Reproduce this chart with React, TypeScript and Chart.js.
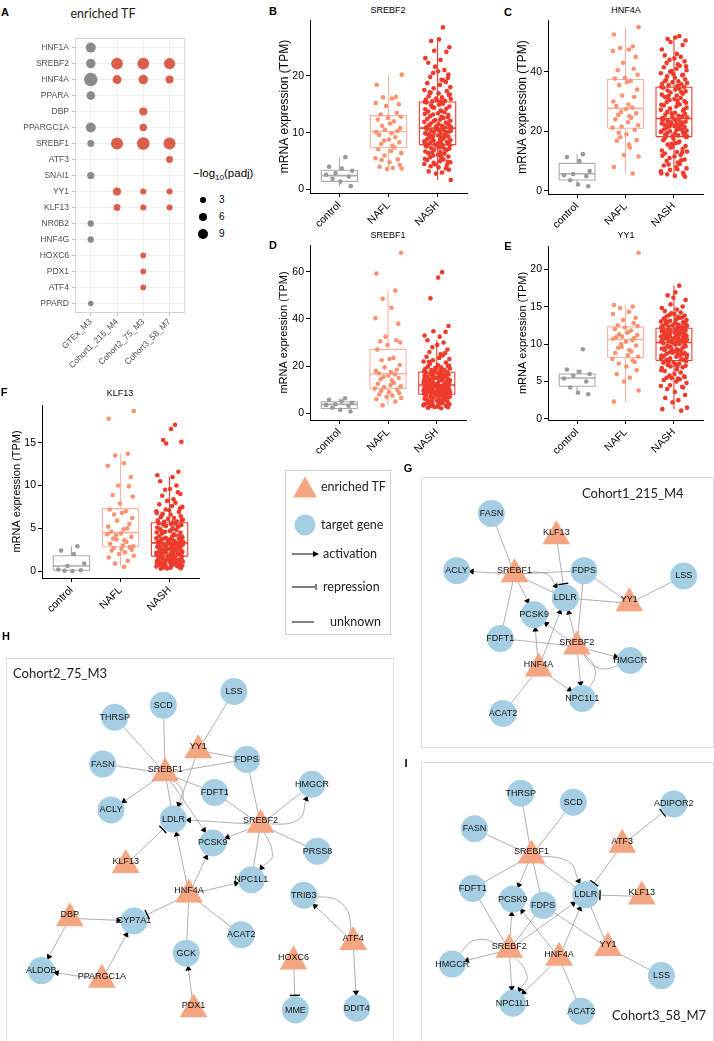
import React, { useEffect, useRef } from 'react';
import { Chart, registerables } from 'chart.js';
Chart.register(...registerables);

const SANS = '"Liberation Sans", Arial, Helvetica, sans-serif';
const CAL = 'Lato, "Open Sans", sans-serif';
Chart.defaults.font.family = SANS;

// ---------------- Panel A: enriched TF dot plot ----------------
const tfNames = ['HNF1A', 'SREBF2', 'HNF4A', 'PPARA', 'DBP', 'PPARGC1A', 'SREBF1', 'ATF3', 'SNAI1', 'YY1', 'KLF13', 'NR0B2', 'HNF4G', 'HOXC6', 'PDX1', 'ATF4', 'PPARD'];
const moduleNames = ['GTEx_M3', 'Cohort1_215_M4', 'Cohort2_75_M3', 'Cohort3_58_M7'];
// -log10(padj) per TF (null = not enriched)
const gtexM3 = [9, 8, 15, 6.5, null, 9, 3.5, null, 4, null, null, 2.5, 2.5, null, null, null, 1];
const cohort1M4 = [null, 12, 7, null, null, null, 12.5, null, null, 5.5, 3.5, null, null, null, null, null, null];
const cohort2M3 = [null, 12, 8, null, 5.5, 4.3, 13.5, null, null, 2, 2, null, null, 1.5, 1.5, 1.5, null];
const cohort3M7 = [null, 11, 5.5, null, null, null, 12.5, 3.5, null, 2, 2, null, null, null, null, null, null];
const sizeLegendValues = [3, 6, 9];

// ---------------- Box plots ----------------
const groupNames = ['control', 'NAFL', 'NASH'];

const srebf2Control = [5.7, 4.0, 3.7, 3.3, 2.9, 2.6, 2.3, 1.9, 1.4, 0.6];
const srebf2Nafl = [20.2, 18.4, 16.3, 16.2, 16.0, 15.2, 15.0, 14.7, 13.5, 13.2, 12.8, 12.6, 12.3, 12.0, 11.6, 11.2, 10.8, 10.5, 10.3, 10.1, 9.9, 9.6, 9.2, 8.8, 8.6, 8.3, 8.0, 7.7, 7.4, 7.1, 6.8, 6.4, 6.0, 5.5, 5.3, 5.2, 4.8, 4.3, 4.0, 3.8, 3.6, 3.7];
const srebf2Nash = [28.5, 26.4, 26.1, 25.0, 24.4, 24.2, 23.1, 22.8, 22.3, 21.0, 20.8, 20.5, 20.2, 19.8, 19.3, 19.2, 18.7, 18.4, 18.0, 17.8, 17.5, 17.3, 17.0, 16.9, 16.6, 16.4, 16.2, 16.0, 15.9, 15.8, 15.6, 15.5, 15.5, 15.4, 19.6, 21.6, 18.9, 17.1, 16.7, 15.7,
  15.3, 15.1, 14.9, 14.8, 14.6, 14.4, 14.2, 14.1, 13.9, 13.7, 13.6, 13.4, 13.2, 13.1, 12.9, 12.8, 12.6, 12.4, 12.3, 12.1, 12.0, 11.9, 11.7, 11.6, 11.5, 11.4, 11.3, 11.2, 11.1, 11.0, 10.9, 10.9, 14.5, 13.8, 13.3, 12.7, 12.2, 11.8, 11.4, 11.0,
  10.7, 10.6, 10.5, 10.4, 10.3, 10.2, 10.1, 10.0, 9.9, 9.8, 9.7, 9.6, 9.5, 9.4, 9.3, 9.2, 9.1, 9.0, 8.9, 8.8, 8.7, 8.6, 8.5, 8.4, 8.3, 8.2, 8.1, 8.0, 7.95, 10.65, 10.35, 9.85, 9.45, 9.05, 8.65, 8.25, 8.05, 7.9, 10.1, 9.6,
  7.8, 7.7, 7.6, 7.5, 7.4, 7.3, 7.2, 7.0, 6.9, 6.7, 6.6, 6.4, 6.3, 6.1, 6.0, 5.8, 5.7, 5.5, 5.3, 5.2, 5.0, 4.8, 4.7, 4.5, 4.3, 4.1, 3.9, 3.5, 3.2, 3.0, 2.8, 1.7, 7.65, 7.1, 6.5, 5.9, 5.4, 4.9, 4.4, 3.7];
const srebf2Box = [[0.6, 1.45, 2.45, 3.4, 5.7], [3.6, 7.4, 10.2, 13.0, 20.2], [1.7, 7.9, 10.8, 15.4, 26.4]];
const srebf2Ticks = [0, 10, 20];

const hnf4aControl = [12.3, 11.3, 10.0, 6.6, 5.6, 5.2, 4.9, 3.5, 2.1, 1.5];
const hnf4aNafl = [55.0, 52.5, 48.5, 48.0, 47.5, 47.0, 45.0, 43.0, 41.0, 40.5, 39.0, 38.0, 37.7,
  37.0, 36.5, 35.5, 34.0, 32.0, 31.5, 30.0, 29.0, 28.5, 28.0,
  27.5, 26.5, 26.0, 25.5, 25.0, 24.5, 24.0, 23.0, 22.0, 21.5, 21.2,
  20.5, 19.5, 19.0, 17.0, 16.8, 14.5, 12.0, 11.5, 8.0, 5.8, 18.0, 15.5];
const hnf4aNash = [52.0, 51.5, 51.0, 50.5, 50.0, 49.0, 47.5, 46.0, 45.5, 45.0, 44.5, 44.0, 43.5, 43.0, 42.5, 42.0, 41.5, 41.0, 40.5, 40.0, 39.5, 39.0, 38.5, 38.0, 37.5, 37.0, 36.8, 36.5, 36.2, 36.0, 35.8, 35.5, 35.3, 35.0, 34.9, 40.2, 38.8, 37.2, 41.8, 39.2,
  34.6, 34.3, 34.0, 33.7, 33.4, 33.0, 32.6, 32.3, 32.0, 31.6, 31.2, 30.8, 30.5, 30.1, 29.8, 29.4, 29.0, 28.7, 28.3, 28.0, 27.6, 27.2, 26.9, 26.5, 26.2, 25.8, 25.5, 25.2, 24.9, 24.6, 24.4, 33.2, 31.9, 30.3, 28.9, 27.4, 26.0, 25.0, 31.4, 29.6,
  24.2, 24.0, 23.8, 23.6, 23.4, 23.2, 23.0, 22.8, 22.6, 22.4, 22.2, 22.0, 21.8, 21.6, 21.4, 21.2, 21.0, 20.8, 20.6, 20.4, 20.2, 20.0, 19.8, 19.6, 19.4, 19.2, 19.0, 18.8, 18.6, 18.4, 18.3, 23.9, 22.9, 21.9, 20.9, 19.9, 18.9, 22.5, 20.5, 18.5,
  18.0, 17.5, 17.0, 16.5, 16.0, 15.5, 15.0, 14.5, 14.0, 13.5, 13.0, 12.5, 12.0, 11.5, 11.0, 10.5, 10.0, 9.5, 9.0, 8.5, 8.0, 7.5, 7.0, 6.5, 6.0, 5.5, 5.0, 4.7, 17.8, 16.2, 14.8, 13.2, 11.8, 10.2, 8.8, 7.2, 5.8, 5.2, 15.8, 12.8];
const hnf4aBox = [[1.5, 3.6, 5.7, 9.2, 12.3], [5.8, 21.0, 27.7, 37.4, 55.0], [4.7, 18.2, 24.3, 34.8, 52.0]];
const hnf4aTicks = [0, 20, 40];

const srebf1Control = [6.4, 5.8, 5.1, 4.5, 3.9, 3.6, 3.2, 2.4, 1.5, 0.8];
const srebf1Nafl = [68.0, 59.2, 52.0, 48.5, 44.7, 40.3, 38.0, 32.5, 31.0, 30.5, 30.0, 29.0,
  27.0, 23.5, 23.0, 22.5, 20.5, 19.5, 18.5, 18.0, 17.5, 17.0,
  16.5, 16.0, 15.5, 15.0, 14.5, 14.0, 13.0, 12.5, 12.0, 11.5, 11.0,
  10.5, 10.0, 9.5, 9.0, 8.5, 8.0, 7.5, 7.0, 6.5, 6.0, 5.0, 3.4];
const srebf1Nash = [59.8, 57.5, 48.7, 37.0, 34.8, 34.5, 33.0, 32.5, 31.0, 30.0, 29.0, 28.0, 27.0, 26.0, 25.0, 24.5, 24.0, 23.5, 23.0, 22.5, 22.0, 21.5, 21.0, 20.5, 20.0, 19.8, 19.5, 19.2, 19.0, 18.8, 18.5, 18.3, 18.0, 17.8, 17.6, 17.5, 25.5, 21.8, 20.2, 19.1,
  17.3, 17.1, 16.9, 16.7, 16.5, 16.3, 16.1, 15.9, 15.7, 15.5, 15.3, 15.1, 14.9, 14.7, 14.5, 14.3, 14.1, 13.9, 13.7, 13.5, 13.3, 13.1, 12.9, 12.7, 12.5, 12.3, 12.1, 16.0, 15.0, 14.0, 13.0, 12.2, 16.6, 15.4, 14.4, 13.4, 12.4, 15.8, 13.8, 12.6,
  11.9, 11.8, 11.7, 11.6, 11.5, 11.4, 11.3, 11.2, 11.1, 11.0, 10.9, 10.8, 10.7, 10.6, 10.5, 10.4, 10.3, 10.2, 10.1, 10.0, 9.9, 9.8, 9.7, 9.6, 9.5, 9.4, 9.3, 9.2, 9.1, 9.0, 8.9, 8.8, 8.7, 8.6, 8.5, 8.4, 8.3, 8.2, 11.45, 10.15,
  8.0, 7.8, 7.6, 7.4, 7.2, 7.0, 6.8, 6.6, 6.4, 6.2, 6.0, 5.8, 5.6, 5.4, 5.2, 5.0, 4.8, 4.6, 4.4, 4.2, 4.0, 3.8, 3.6, 3.4, 3.2, 3.0, 2.8, 2.6, 2.4, 2.2, 7.9, 7.1, 6.5, 5.9, 5.1, 4.5, 3.9, 3.3, 2.7, 6.9];
const srebf1Box = [[0.8, 2.1, 3.8, 4.9, 6.4], [3.4, 10.6, 16.8, 27.1, 52.0], [2.2, 8.1, 12.0, 17.4, 31.0]];
const srebf1Ticks = [0, 20, 40, 60];

const yy1Control = [9.3, 6.6, 6.3, 6.0, 5.8, 5.4, 5.0, 4.2, 3.5, 3.3];
const yy1Nafl = [22.2, 15.2, 15.0, 14.8, 14.3, 14.0, 13.5, 13.2, 12.8, 12.5, 12.4,
  12.2, 12.0, 11.8, 11.5, 11.3, 11.2, 11.0, 10.8, 10.7, 11.6, 10.9,
  10.5, 10.3, 10.0, 9.8, 9.5, 9.2, 9.0, 8.8, 8.5, 8.3, 9.6,
  8.0, 7.6, 7.4, 7.0, 6.5, 6.0, 5.5, 5.0, 3.8, 2.3, 7.8];
const yy1Nash = [17.8, 16.9, 16.5, 15.9, 15.3, 15.0, 14.8, 14.6, 14.4, 14.2, 14.0, 13.9, 13.8, 13.7, 13.6, 13.5, 13.4, 13.3, 13.2, 13.1, 13.0, 12.9, 12.85, 12.8, 12.7, 12.65, 12.6, 12.5, 12.45, 12.4, 12.35, 12.3, 12.25, 12.2, 12.15, 14.1, 13.55, 13.05, 12.55, 16.2,
  12.05, 12.0, 11.95, 11.9, 11.85, 11.8, 11.75, 11.7, 11.65, 11.6, 11.55, 11.5, 11.45, 11.4, 11.35, 11.3, 11.25, 11.2, 11.15, 11.1, 11.05, 11.0, 10.95, 10.9, 10.85, 10.8, 10.75, 10.7, 10.65, 10.6, 10.55, 10.5, 10.45, 10.4, 10.35, 10.3, 10.25, 11.62, 11.02, 10.42,
  10.15, 10.1, 10.0, 9.9, 9.8, 9.7, 9.6, 9.5, 9.4, 9.3, 9.2, 9.1, 9.0, 8.9, 8.8, 8.7, 8.6, 8.5, 8.4, 8.3, 8.2, 8.1, 8.0, 7.9, 7.85, 10.05, 9.75, 9.45, 9.15, 8.85, 8.55, 8.25, 7.95, 9.65, 9.05, 8.45, 10.12, 9.35, 8.65, 7.82,
  7.7, 7.6, 7.5, 7.4, 7.3, 7.2, 7.1, 7.0, 6.9, 6.8, 6.6, 6.4, 6.2, 6.0, 5.8, 5.6, 5.5, 5.4, 5.3, 5.2, 5.0, 4.8, 4.5, 4.4, 4.2, 4.0, 3.6, 3.2, 2.8, 2.5, 2.2, 1.5, 1.3, 1.1, 7.55, 6.95, 6.5, 5.7, 5.45, 4.3];
const yy1Box = [[3.3, 4.35, 5.47, 6.0, 6.6], [2.3, 8.2, 10.6, 12.3, 15.2], [1.3, 7.8, 10.2, 12.1, 17.8]];
const yy1Ticks = [0, 5, 10, 15, 20];

const klf13Control = [2.9, 2.4, 2.0, 0.9, 0.6, 0.2, 0.1, 0.05, 0.0];
const klf13Nafl = [18.7, 17.8, 13.7, 13.5, 12.6, 12.3, 11.0, 10.0, 9.9, 8.9, 8.7, 7.9,
  7.2, 7.0, 6.8, 6.6, 6.2, 5.9, 5.5, 5.2, 4.9, 4.6, 5.0,
  4.4, 4.2, 4.0, 3.8, 3.6, 3.4, 3.2, 3.0, 2.9, 3.7, 4.3,
  2.8, 2.7, 2.6, 2.5, 2.4, 2.2, 2.0, 1.8, 1.6, 1.2, 0.9, 0.5];
const klf13Nash = [17.1, 16.6, 15.3, 15.1, 14.9, 11.6, 11.2, 11.0, 10.5, 10.0, 9.6, 9.5, 9.0, 8.8, 8.4, 8.0, 7.8, 7.6, 7.5, 7.2, 7.0, 6.9, 6.7, 6.6, 6.4, 6.3, 6.2, 6.1, 6.0, 5.9, 5.8, 5.75, 5.7, 6.8, 7.3, 8.2, 9.2, 6.5, 5.95, 7.1,
  5.6, 5.55, 5.5, 5.45, 5.4, 5.3, 5.2, 5.1, 5.0, 4.9, 4.8, 4.7, 4.6, 4.5, 4.4, 4.3, 4.2, 4.1, 4.0, 3.95, 3.9, 3.85, 3.8, 3.75, 3.7, 3.65, 3.6, 3.55, 3.5, 3.45, 3.4, 3.35, 5.35, 4.95, 4.55, 4.15, 3.75, 5.25, 4.65, 4.05,
  3.25, 3.2, 3.15, 3.1, 3.05, 3.0, 2.95, 2.9, 2.85, 2.8, 2.75, 2.7, 2.65, 2.6, 2.55, 2.5, 2.45, 2.4, 2.35, 2.3, 2.25, 2.2, 2.15, 2.1, 2.05, 2.0, 1.95, 1.9, 1.85, 1.8, 3.12, 2.88, 2.62, 2.38, 2.12, 1.88, 3.02, 2.52, 2.02, 1.78,
  1.7, 1.65, 1.6, 1.55, 1.5, 1.45, 1.4, 1.35, 1.3, 1.25, 1.2, 1.15, 1.1, 1.05, 1.0, 0.95, 0.9, 0.85, 0.8, 0.75, 0.7, 0.65, 0.6, 0.55, 0.5, 0.45, 0.4, 0.35, 0.3, 1.62, 1.38, 1.12, 0.88, 0.62, 0.42, 1.52, 1.02, 0.72, 0.32, 1.28];
const klf13Box = [[0.0, 0.1, 0.6, 1.8, 2.9], [0.5, 2.85, 4.5, 7.3, 13.7], [0.3, 1.75, 3.3, 5.65, 11.0]];
const klf13Ticks = [0, 5, 10, 15];

// horizontal jitter offsets (category units)
const jitterOffsets = [0.12, -0.21, 0.05, 0.26, -0.08, -0.27, 0.19, -0.14, 0.02, 0.23, -0.18, 0.09, -0.03, 0.27, -0.24, 0.15, -0.11, 0.07, -0.26, 0.21, -0.05, 0.17, -0.16, 0.25, -0.01, -0.22, 0.11, 0.03, -0.13, 0.24, -0.07, 0.18, -0.25, 0.06, -0.19, 0.14, 0.01, -0.09, 0.22, -0.15, 0.08];

// ---------------- Networks ----------------
const g1Names = ['FASN', 'KLF13', 'ACLY', 'SREBF1', 'FDPS', 'LSS', 'LDLR', 'YY1', 'PCSK9', 'FDFT1', 'SREBF2', 'HMGCR', 'HNF4A', 'NPC1L1', 'ACAT2'];
const g1Kinds = ['g', 't', 'g', 't', 'g', 'g', 'g', 't', 'g', 'g', 't', 'g', 't', 'g', 'g'];
const g1X = [482, 555, 443, 508, 586, 698, 565, 637, 530, 492, 578, 638, 535, 584, 495];
const g1Y = [500, 522, 565, 565, 565, 571, 596, 598, 615, 642, 647, 667, 672, 710, 727];
const g1Edges = [
  ['FASN', 'SREBF1', 'u', 0], ['SREBF1', 'ACLY', 'a', 0], ['SREBF1', 'FDPS', 'u', 0], ['SREBF1', 'LDLR', 'a', 0.25],
  ['SREBF1', 'LDLR', 'u', 0], ['SREBF1', 'PCSK9', 'a', 0], ['SREBF1', 'FDFT1', 'u', 0], ['KLF13', 'LDLR', 'r', 0],
  ['FDPS', 'YY1', 'u', 0], ['YY1', 'LSS', 'u', 0], ['LDLR', 'YY1', 'u', 0], ['FDPS', 'SREBF2', 'u', 0],
  ['SREBF2', 'LDLR', 'a', 0], ['SREBF2', 'PCSK9', 'a', 0], ['FDFT1', 'SREBF2', 'u', 0], ['SREBF2', 'HMGCR', 'a', 0],
  ['SREBF2', 'HMGCR', 'u', -0.28], ['SREBF2', 'NPC1L1', 'a', 0], ['SREBF2', 'NPC1L1', 'u', 0.3], ['HNF4A', 'PCSK9', 'a', 0],
  ['HNF4A', 'LDLR', 'a', 0], ['HNF4A', 'NPC1L1', 'a', 0], ['HNF4A', 'ACAT2', 'u', 0],
];

const h2Names = ['LSS', 'SCD', 'THRSP', 'YY1', 'FDPS', 'FASN', 'SREBF1', 'HMGCR', 'FDFT1', 'ACLY', 'LDLR', 'SREBF2', 'PCSK9', 'PRSS8', 'KLF13', 'NPC1L1', 'HNF4A', 'TRIB3', 'DBP', 'CYP7A1', 'ACAT2', 'ATF4', 'GCK', 'HOXC6', 'ALDOB', 'PPARGC1A', 'PDX1', 'MME', 'DDIT4'];
const h2Kinds = ['g', 'g', 'g', 't', 'g', 'g', 't', 'g', 'g', 'g', 'g', 't', 'g', 'g', 't', 'g', 't', 'g', 't', 'g', 'g', 't', 'g', 't', 'g', 't', 't', 'g', 'g'];
const h2X = [237, 160, 107, 198, 251, 94, 162, 322, 216, 103, 171, 266, 214, 328, 119, 256, 188, 313, 58, 128, 245, 367, 185, 302, 27, 93, 193, 304, 371];
const h2Y = [677, 692, 705, 737, 751, 756, 762, 778, 787, 806, 816, 818, 842, 851, 862, 882, 894, 899, 920, 927, 942, 946, 962, 967, 981, 987, 1019, 1024, 1022];
const h2Edges = [
  ['LSS', 'YY1', 'u', 0], ['SCD', 'SREBF1', 'u', 0], ['THRSP', 'SREBF1', 'u', 0], ['YY1', 'FDPS', 'u', 0],
  ['YY1', 'LDLR', 'a', 0], ['FASN', 'SREBF1', 'u', 0], ['SREBF1', 'FDPS', 'u', 0], ['SREBF1', 'FDFT1', 'u', 0],
  ['SREBF1', 'ACLY', 'a', 0], ['SREBF1', 'LDLR', 'u', 0], ['SREBF1', 'PCSK9', 'a', 0], ['SREBF1', 'LDLR', 'u', 0.3],
  ['FDPS', 'SREBF2', 'u', 0], ['FDFT1', 'SREBF2', 'u', 0], ['SREBF2', 'LDLR', 'a', 0], ['SREBF2', 'PCSK9', 'a', 0],
  ['SREBF2', 'HMGCR', 'u', 0], ['SREBF2', 'HMGCR', 'a', -0.3], ['SREBF2', 'PRSS8', 'u', 0], ['SREBF2', 'NPC1L1', 'u', 0],
  ['SREBF2', 'NPC1L1', 'a', 0.3], ['KLF13', 'LDLR', 'r', 0], ['HNF4A', 'LDLR', 'a', 0], ['HNF4A', 'PCSK9', 'a', 0],
  ['HNF4A', 'NPC1L1', 'a', 0], ['HNF4A', 'CYP7A1', 'r', 0], ['HNF4A', 'ACAT2', 'u', 0], ['HNF4A', 'GCK', 'u', 0],
  ['DBP', 'CYP7A1', 'a', 0], ['DBP', 'ALDOB', 'a', 0], ['PPARGC1A', 'ALDOB', 'a', 0], ['PPARGC1A', 'CYP7A1', 'a', 0],
  ['PDX1', 'GCK', 'a', 0], ['ATF4', 'TRIB3', 'a', 0], ['TRIB3', 'ATF4', 'u', 0.3], ['ATF4', 'DDIT4', 'a', 0],
  ['HOXC6', 'MME', 'r', 0],
];

const i3Names = ['THRSP', 'SCD', 'ADIPOR2', 'FASN', 'ATF3', 'SREBF1', 'FDFT1', 'KLF13', 'LDLR', 'PCSK9', 'FDPS', 'SREBF2', 'YY1', 'HNF4A', 'HMGCR', 'LSS', 'NPC1L1', 'ACAT2'];
const i3Kinds = ['g', 'g', 'g', 'g', 't', 't', 'g', 't', 'g', 'g', 'g', 't', 't', 't', 'g', 'g', 'g', 'g'];
const i3X = [515, 574, 687, 463, 629, 527, 461, 651, 588, 506, 540, 502, 613, 558, 438, 673, 506, 583];
const i3Y = [779, 789, 791, 819, 833, 845, 886, 891, 893, 898, 905, 951, 949, 960, 971, 984, 1015, 1024];
const i3Edges = [
  ['THRSP', 'SREBF1', 'u', 0], ['SCD', 'SREBF1', 'u', 0], ['FASN', 'SREBF1', 'u', 0], ['ATF3', 'ADIPOR2', 'r', 0],
  ['ATF3', 'LDLR', 'r', 0], ['KLF13', 'LDLR', 'r', 0], ['SREBF1', 'LDLR', 'a', 0.25], ['SREBF1', 'LDLR', 'u', 0],
  ['SREBF1', 'PCSK9', 'a', 0], ['SREBF1', 'FDFT1', 'u', 0], ['SREBF1', 'FDPS', 'u', 0], ['FDFT1', 'SREBF2', 'u', 0],
  ['SREBF2', 'PCSK9', 'a', 0], ['SREBF2', 'FDPS', 'u', 0], ['SREBF2', 'LDLR', 'a', 0], ['SREBF2', 'HMGCR', 'a', 0],
  ['SREBF2', 'HMGCR', 'u', -0.3], ['SREBF2', 'NPC1L1', 'a', 0], ['SREBF2', 'NPC1L1', 'a', 0.3], ['HNF4A', 'PCSK9', 'a', 0],
  ['HNF4A', 'LDLR', 'a', 0], ['HNF4A', 'NPC1L1', 'a', 0], ['HNF4A', 'ACAT2', 'u', 0], ['FDPS', 'YY1', 'u', 0],
  ['LDLR', 'YY1', 'u', 0], ['YY1', 'LSS', 'u', 0],
];

// ---------------- styles ----------------
const DOT_GRAY = '#8a8a8a';
const DOT_RED = '#d95f4c';
const TF_COLOR = '#f4a582';
const GENE_COLOR = '#a6cee3';
const groupColors = [
  { point: '#9a9a9a', box: '#ababab' },
  { point: '#fc9272', box: '#fcb39d' },
  { point: '#ef3b2c', box: '#e8412f' },
];
const sizeToRadius = (v: number) => 2.5 + 0.28 * v;

function CanvasChart({ left, top, width, height, make }: any) {
  const ref = useRef<HTMLCanvasElement>(null);
  useEffect(() => {
    const chart = new Chart(ref.current as HTMLCanvasElement, make());
    return () => chart.destroy();
  }, []);
  return <canvas ref={ref} width={width} height={height} style={{ position: 'absolute', left, top, width, height }} />;
}

function Txt({ x, y, children, size = 11, bold = false, family = SANS, anchor = 'middle', color = '#000' }: any) {
  const tr = anchor === 'middle' ? 'translate(-50%,-50%)' : anchor === 'start' ? 'translate(0,-50%)' : 'translate(-100%,-50%)';
  return (
    <div style={{ position: 'absolute', left: x, top: y, transform: tr, fontSize: size, fontWeight: bold ? 700 : 400, fontFamily: family, color, whiteSpace: 'nowrap', lineHeight: 1 }}>
      {children}
    </div>
  );
}

const framePlugin = (color: string) => ({
  id: 'frame',
  beforeDatasetsDraw(chart: any) {
    const { ctx, chartArea: a } = chart;
    ctx.save();
    ctx.strokeStyle = color;
    ctx.lineWidth = 1;
    ctx.strokeRect(a.left + 0.5, a.top + 0.5, a.width - 1, a.height - 1);
    ctx.restore();
  },
});

// ---------- Panel A config ----------
const A_LAYOUT = { left: 0, top: 26, width: 192, height: 372, plotLeft: 75, plotTop: 38, plotRight: 187, plotBottom: 313 };
function dotPlotConfig() {
  const L = A_LAYOUT;
  const series = [gtexM3, cohort1M4, cohort2M3, cohort3M7];
  const datasets = series.map((vals, mi) => ({
    data: vals.map((v, ti) => (v == null ? null : { x: mi, y: ti, r: sizeToRadius(v) })).filter(Boolean),
    backgroundColor: mi === 0 ? DOT_GRAY : DOT_RED,
    borderWidth: 0,
    hoverBorderWidth: 0,
  }));
  const axisCommon = {
    type: 'linear',
    grid: { color: '#ebebeb', lineWidth: 0.8, tickLength: 3, tickColor: '#b5b5b5' },
    border: { display: false },
  };
  return {
    type: 'bubble',
    data: { datasets },
    options: {
      responsive: false, animation: false, events: [],
      layout: { padding: { left: 0, top: L.plotTop - L.top, right: L.left + L.width - L.plotRight, bottom: 0 } },
      plugins: { legend: { display: false }, tooltip: { enabled: false } },
      scales: {
        x: {
          ...axisCommon, min: -0.6, max: 3.6,
          afterBuildTicks: (a: any) => { a.ticks = moduleNames.map((_, i) => ({ value: i })); },
          afterFit: (s: any) => { s.height = L.top + L.height - L.plotBottom; },
          ticks: { callback: (v: any) => moduleNames[v], minRotation: 45, maxRotation: 45, autoSkip: false, font: { size: 8.5, family: SANS }, color: '#4d4d4d', padding: 1 },
        },
        y: {
          ...axisCommon, min: -0.6, max: 16.6, reverse: true,
          afterBuildTicks: (a: any) => { a.ticks = tfNames.map((_, i) => ({ value: i })); },
          afterFit: (s: any) => { s.width = L.plotLeft - L.left; },
          ticks: { callback: (v: any) => tfNames[v], autoSkip: false, font: { size: 8.5, family: SANS }, color: '#4d4d4d', padding: 3 },
        },
      },
    },
    plugins: [framePlugin('#d4d4d4')],
  };
}

// ---------- Box plot config ----------
const boxPanels = [
  { id: 'B', gene: 'SREBF2', values: [srebf2Control, srebf2Nafl, srebf2Nash], box: srebf2Box, ticks: srebf2Ticks, yMin: -0.6, yMax: 29.8,
    canvas: { left: 277, top: 8, width: 200, height: 232 }, plot: { left: 310, top: 20, right: 467, bottom: 193 }, titleFont: 12, letter: [273, 11], title: [388, 10] },
  { id: 'C', gene: 'HNF4A', values: [hnf4aControl, hnf4aNafl, hnf4aNash], box: hnf4aBox, ticks: hnf4aTicks, yMin: -1.1, yMax: 57.4,
    canvas: { left: 515, top: 8, width: 199, height: 232 }, plot: { left: 548, top: 20, right: 703, bottom: 194 }, titleFont: 12, letter: [508, 12], title: [626, 10] },
  { id: 'D', gene: 'SREBF1', values: [srebf1Control, srebf1Nafl, srebf1Nash], box: srebf1Box, ticks: srebf1Ticks, yMin: -2.8, yMax: 71.3,
    canvas: { left: 277, top: 233, width: 200, height: 240 }, plot: { left: 310, top: 245, right: 466, bottom: 420 }, titleFont: 11, letter: [273, 245], title: [388, 235] },
  { id: 'E', gene: 'YY1', values: [yy1Control, yy1Nafl, yy1Nash], box: yy1Box, ticks: yy1Ticks, yMin: -0.15, yMax: 23.1,
    canvas: { left: 516, top: 234, width: 198, height: 239 }, plot: { left: 548, top: 246, right: 703, bottom: 420 }, titleFont: 11, letter: [508, 246], title: [626, 235] },
  { id: 'F', gene: 'KLF13', values: [klf13Control, klf13Nafl, klf13Nash], box: klf13Box, ticks: klf13Ticks, yMin: -0.8, yMax: 19.4,
    canvas: { left: 10, top: 393, width: 200, height: 237 }, plot: { left: 42, top: 405, right: 199, bottom: 578 }, titleFont: 11, letter: [4, 392], title: [120, 393] },
];

function boxConfig(p: any) {
  const datasets: any[] = [];
  const hw = 0.37;
  groupNames.forEach((_, gi) => {
    const col = groupColors[gi];
    datasets.push({
      data: p.values[gi].map((v: number, i: number) => ({ x: gi + jitterOffsets[(i + gi * 13) % jitterOffsets.length], y: v })),
      pointRadius: 2.3, pointBackgroundColor: col.point, pointBorderWidth: 0, showLine: false, order: 0,
    });
    const [lo, q1, med, q3, hi] = p.box[gi];
    const line = (data: any[], w: number) => ({ data, showLine: true, borderColor: col.box, borderWidth: w, pointRadius: 0, order: 1, tension: 0 });
    datasets.push(line([{ x: gi - hw, y: q1 }, { x: gi + hw, y: q1 }, { x: gi + hw, y: q3 }, { x: gi - hw, y: q3 }, { x: gi - hw, y: q1 }], 1.1));
    datasets.push(line([{ x: gi - hw, y: med }, { x: gi + hw, y: med }], 1.6));
    datasets.push(line([{ x: gi, y: q3 }, { x: gi, y: hi }], 1.1));
    datasets.push(line([{ x: gi, y: q1 }, { x: gi, y: lo }], 1.1));
  });
  const c = p.canvas, pl = p.plot;
  const axisStyle = {
    type: 'linear',
    grid: { drawOnChartArea: false, tickLength: 4, tickColor: '#000', tickWidth: 1 },
    border: { display: true, color: '#000', width: 1 },
  };
  return {
    type: 'scatter',
    data: { datasets },
    options: {
      responsive: false, animation: false, events: [],
      layout: { padding: { left: 0, top: pl.top - c.top, right: c.left + c.width - pl.right, bottom: 0 } },
      plugins: { legend: { display: false }, tooltip: { enabled: false } },
      scales: {
        x: {
          ...axisStyle, min: -0.6, max: 2.6,
          afterBuildTicks: (a: any) => { a.ticks = groupNames.map((_, i) => ({ value: i })); },
          afterFit: (s: any) => { s.height = c.top + c.height - pl.bottom; },
          ticks: { callback: (v: any) => groupNames[v], minRotation: 45, maxRotation: 45, autoSkip: false, font: { size: 10.5, family: SANS }, color: '#000', padding: 2 },
        },
        y: {
          ...axisStyle, min: p.yMin, max: p.yMax,
          afterBuildTicks: (a: any) => { a.ticks = p.ticks.map((v: number) => ({ value: v })); },
          afterFit: (s: any) => { s.width = pl.left - c.left; },
          ticks: { font: { size: 10.5, family: SANS }, color: '#000', padding: 2 },
          title: { display: true, text: 'mRNA expression (TPM)', font: { size: p.titleFont, family: SANS }, color: '#000', padding: 0 },
        },
      },
    },
  };
}

// ---------- Network config ----------
const networks = [
  { id: 'G', names: g1Names, kinds: g1Kinds, xs: g1X, ys: g1Y, edges: g1Edges, frame: { left: 422, top: 478, width: 291, height: 269 },
    title: 'Cohort1_215_M4', titlePos: [582, 493], letter: [408, 468] },
  { id: 'H', names: h2Names, kinds: h2Kinds, xs: h2X, ys: h2Y, edges: h2Edges, frame: { left: 7, top: 659, width: 386, height: 390 },
    title: 'Cohort2_75_M3', titlePos: [13, 673], letter: [6, 636] },
  { id: 'I', names: i3Names, kinds: i3Kinds, xs: i3X, ys: i3Y, edges: i3Edges, frame: { left: 422, top: 763, width: 291, height: 290 },
    title: 'Cohort3_58_M7', titlePos: [612, 1015], letter: [406, 763] },
];
const TRI_R = 16;
const CIRC_R = 13.5;

function networkConfig(net: any) {
  const pos: any = {};
  net.names.forEach((n: string, i: number) => {
    const tf = net.kinds[i] === 't';
    pos[n] = { x: net.xs[i], y: net.ys[i] + (tf ? TRI_R / 4 : 0), tf };
  });
  const edgeSets = net.edges.map(([s, t, type, bend]: any) => {
    const a = pos[s], b = pos[t];
    const pts: any[] = [{ x: a.x, y: a.y }];
    let fx = a.x, fy = a.y;
    if (bend) {
      const dx = b.x - a.x, dy = b.y - a.y;
      fx = (a.x + b.x) / 2 + dy * bend;
      fy = (a.y + b.y) / 2 - dx * bend;
      pts.push({ x: fx, y: fy });
    }
    let ux = b.x - fx, uy = b.y - fy;
    const len = Math.hypot(ux, uy);
    ux /= len; uy /= len;
    const rad = b.tf ? 12 : CIRC_R;
    const back = type === 'a' ? rad + 3.6 : type === 'r' ? rad + 2.5 : 0;
    pts.push({ x: b.x - ux * back, y: b.y - uy * back });
    const rot = (Math.atan2(uy, ux) * 180) / Math.PI + 90;
    const last = pts.length - 1;
    return {
      data: pts, showLine: true, tension: bend ? 0.45 : 0, borderColor: '#9b9b9b', borderWidth: 0.8, order: 1, clip: false,
      pointRadius: (ctx: any) => (ctx.dataIndex === last && type !== 'u' ? (type === 'a' ? 3.6 : 5) : 0),
      pointStyle: type === 'a' ? 'triangle' : 'line',
      pointRotation: rot,
      pointBackgroundColor: '#000', pointBorderColor: '#000', pointBorderWidth: type === 'r' ? 1.4 : 0,
    };
  });
  const nodeSet = {
    data: net.names.map((n: string) => ({ x: pos[n].x, y: pos[n].y })),
    pointStyle: net.kinds.map((k: string) => (k === 't' ? 'triangle' : 'circle')),
    pointRadius: net.kinds.map((k: string) => (k === 't' ? TRI_R : CIRC_R)),
    pointBackgroundColor: net.kinds.map((k: string) => (k === 't' ? TF_COLOR : GENE_COLOR)),
    pointBorderWidth: 0, showLine: false, order: 0, clip: false,
  };
  const labelPlugin = {
    id: 'nodeLabels',
    afterDatasetsDraw(chart: any) {
      const { ctx } = chart;
      const xs = chart.scales.x, ys = chart.scales.y;
      ctx.save();
      ctx.font = `9px ${SANS}`;
      ctx.fillStyle = '#111';
      ctx.textAlign = 'center';
      ctx.textBaseline = 'middle';
      net.names.forEach((n: string, i: number) => ctx.fillText(n, xs.getPixelForValue(net.xs[i]), ys.getPixelForValue(net.ys[i])));
      ctx.restore();
    },
  };
  const f = net.frame;
  return {
    type: 'scatter',
    data: { datasets: [nodeSet, ...edgeSets] },
    options: {
      responsive: false, animation: false, events: [],
      layout: { padding: 0 },
      plugins: { legend: { display: false }, tooltip: { enabled: false } },
      scales: {
        x: { type: 'linear', display: false, min: f.left, max: f.left + f.width },
        y: { type: 'linear', display: false, reverse: true, min: f.top, max: f.top + f.height },
      },
    },
    plugins: [labelPlugin],
  };
}

export default function App() {
  return (
    <div style={{ position: 'absolute', left: 0, top: 0, width: 714, height: 1041, overflow: 'hidden', background: '#fff' }}>
      {/* Panel A */}
      <Txt x={5} y={12} bold size={11}>A</Txt>
      <Txt x={103} y={14} size={12.5} family={CAL} color="#222">enriched TF</Txt>
      <CanvasChart left={A_LAYOUT.left} top={A_LAYOUT.top} width={A_LAYOUT.width} height={A_LAYOUT.height} make={dotPlotConfig} />
      <Txt x={193} y={175} anchor="start" size={11.5}>
        <span>−log<sub style={{ fontSize: '0.7em' }}>10</sub>(padj)</span>
      </Txt>
      {sizeLegendValues.map((v, i) => {
        const r = sizeToRadius(v);
        const cy = 200 + i * 17;
        return (
          <React.Fragment key={v}>
            <div style={{ position: 'absolute', left: 203 - r, top: cy - r, width: 2 * r, height: 2 * r, borderRadius: '50%', background: '#000' }} />
            <Txt x={219} y={cy} anchor="start" size={10}>{v}</Txt>
          </React.Fragment>
        );
      })}

      {/* Box plots */}
      {boxPanels.map((p) => (
        <React.Fragment key={p.id}>
          <Txt x={p.letter[0]} y={p.letter[1]} bold size={11}>{p.id}</Txt>
          <Txt x={p.title[0]} y={p.title[1]} size={9}>{p.gene}</Txt>
          <CanvasChart left={p.canvas.left} top={p.canvas.top} width={p.canvas.width} height={p.canvas.height} make={() => boxConfig(p)} />
        </React.Fragment>
      ))}

      {/* Network legend */}
      <svg style={{ position: 'absolute', left: 285, top: 470 }} width={107} height={166}>
        <rect x={0.5} y={0.5} width={105} height={164} fill="none" stroke="#cfcfcf" />
        <polygon points="20,6.5 32,27.5 8,27.5" fill={TF_COLOR} />
        <circle cx={20} cy={55} r={10.5} fill={GENE_COLOR} />
        <line x1={7} y1={84} x2={29} y2={84} stroke="#000" strokeWidth={1} />
        <polygon points="34,84 28,81 28,87" fill="#000" />
        <line x1={7} y1={117} x2={30} y2={117} stroke="#000" strokeWidth={1} />
        <line x1={31} y1={114} x2={31} y2={120} stroke="#000" strokeWidth={1} />
        <line x1={7} y1={152} x2={29} y2={152} stroke="#000" strokeWidth={1} />
      </svg>
      <Txt x={321} y={487} anchor="start" size={12.5} family={CAL} color="#222">enriched TF</Txt>
      <Txt x={321} y={525} anchor="start" size={12.5} family={CAL} color="#222">target gene</Txt>
      <Txt x={323} y={554} anchor="start" size={12.5} family={CAL} color="#222">activation</Txt>
      <Txt x={323} y={587} anchor="start" size={12.5} family={CAL} color="#222">repression</Txt>
      <Txt x={330} y={622} anchor="start" size={12.5} family={CAL} color="#222">unknown</Txt>

      {/* Networks */}
      {networks.map((n) => (
        <React.Fragment key={n.id}>
          <div style={{ position: 'absolute', left: n.frame.left - 1, top: n.frame.top - 1, width: n.frame.width, height: n.frame.height, border: '1px solid #dedede' }} />
          <Txt x={n.letter[0]} y={n.letter[1]} bold size={11}>{n.id}</Txt>
          <Txt x={n.titlePos[0]} y={n.titlePos[1]} anchor="start" size={13} family={CAL} color="#222">{n.title}</Txt>
          <CanvasChart left={n.frame.left} top={n.frame.top} width={n.frame.width} height={n.frame.height} make={() => networkConfig(n)} />
        </React.Fragment>
      ))}
    </div>
  );
}
